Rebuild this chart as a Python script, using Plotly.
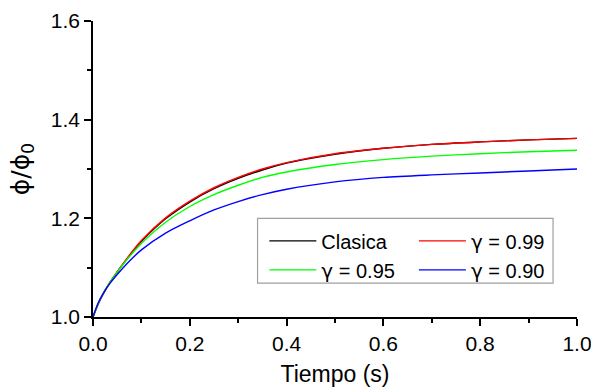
import plotly.graph_objects as go

t = [0.0, 0.01, 0.02, 0.035, 0.05, 0.075, 0.1, 0.15, 0.2, 0.25, 0.3, 0.35, 0.4, 0.5, 0.6, 0.7, 0.8, 0.9, 1.0]
clasica = [1.0, 1.025, 1.045, 1.070, 1.091, 1.124, 1.153, 1.199, 1.233, 1.260, 1.281, 1.298, 1.312, 1.330, 1.342, 1.350, 1.355, 1.359, 1.362]
g099 = [1.0, 1.025, 1.045, 1.070, 1.092, 1.125, 1.155, 1.201, 1.235, 1.262, 1.283, 1.300, 1.313, 1.331, 1.342, 1.350, 1.355, 1.359, 1.362]
g095 = [1.0, 1.026, 1.046, 1.070, 1.091, 1.122, 1.149, 1.192, 1.224, 1.248, 1.267, 1.283, 1.294, 1.309, 1.319, 1.326, 1.331, 1.335, 1.338]
g090 = [1.0, 1.027, 1.046, 1.068, 1.086, 1.113, 1.136, 1.170, 1.195, 1.217, 1.234, 1.248, 1.259, 1.274, 1.283, 1.288, 1.292, 1.296, 1.300]

GAMMA = '<span style="font-family:DejaVu Sans">γ</span>'
names = ["Clasica", GAMMA + " = 0.99", GAMMA + " = 0.95", GAMMA + " = 0.90"]
x_ticks = [0.0, 0.2, 0.4, 0.6, 0.8, 1.0]
y_ticks = [1.0, 1.2, 1.4, 1.6]

FONT = "Liberation Sans, Arial, DejaVu Sans, sans-serif"

fig = go.Figure()
series = [(clasica, "#000000", "legend"), (g099, "#ff0000", "legend2"),
          (g095, "#00ff00", "legend"), (g090, "#0000ff", "legend2")]
for (vals, col, lg), nm in zip(series, names):
    fig.add_trace(go.Scatter(x=t, y=vals, mode="lines", name=nm, legend=lg, cliponaxis=False,
                             line=dict(color=col, width=1.4, shape="spline", smoothing=0.8)))

axis_common = dict(showline=True, linecolor="#000000", linewidth=1.5, ticks="outside",
                   ticklen=7, tickwidth=1.5, tickcolor="#000000", showgrid=False, zeroline=False,
                   tickfont=dict(family=FONT, size=21, color="#000000"), mirror=False,
                   automargin=False, ticklabeloverflow="allow")

fig.update_layout(
    template="none",
    width=591, height=390,
    margin=dict(l=93, r=14, t=21, b=73),
    plot_bgcolor="white", paper_bgcolor="white",
    xaxis=dict(range=[0, 1.0], tickvals=x_ticks, ticktext=[f"{v:.1f}" for v in x_ticks],
               minor=dict(dtick=0.1, tick0=0, ticklen=4, tickwidth=1.5, tickcolor="#000000", ticks="outside"),
               title=dict(text="Tiempo (s)", font=dict(family=FONT, size=23, color="#000000"), standoff=12),
               **axis_common),
    yaxis=dict(range=[1.0, 1.6], tickvals=y_ticks, ticktext=[f"{v:.1f}" for v in y_ticks],
               minor=dict(dtick=0.1, tick0=0, ticklen=4, tickwidth=1.5, tickcolor="#000000", ticks="outside"),
               title=dict(text="ϕ/ϕ<sub>0</sub>", font=dict(family="DejaVu Sans, sans-serif", size=25, color="#000000"), standoff=14),
               **axis_common),
    legend=dict(x=0.354, y=0.323, xanchor="left", yanchor="top", bgcolor="rgba(0,0,0,0)",
                borderwidth=0, itemwidth=47, font=dict(family=FONT, size=20, color="#000000"),
                tracegroupgap=0),
    legend2=dict(x=0.663, y=0.323, xanchor="left", yanchor="top", bgcolor="rgba(0,0,0,0)",
                 borderwidth=0, itemwidth=47, font=dict(family=FONT, size=20, color="#000000"),
                 tracegroupgap=0),
    shapes=[dict(type="rect", xref="paper", yref="paper", x0=0.340, x1=0.9505, y0=0.1145, y1=0.333,
                 line=dict(color="#a0a0a0", width=1.2), fillcolor="rgba(0,0,0,0)", layer="above")],
    showlegend=True,
)

fig.write_html("out.html")
